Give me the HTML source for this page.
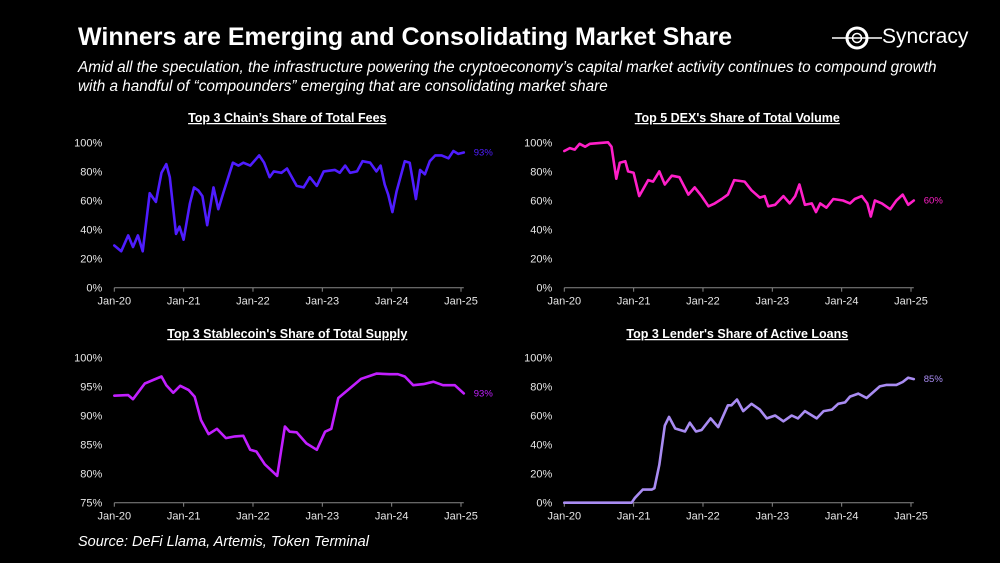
<!DOCTYPE html>
<html><head><meta charset="utf-8"><style>
html,body{margin:0;padding:0;background:#000;}
body{width:1000px;height:563px;overflow:hidden;position:relative;font-family:"Liberation Sans",sans-serif;color:#fff;}
.t{position:absolute;white-space:nowrap;}
</style></head><body>
<div class="t" style="left:78px;top:23px;font-size:25px;font-weight:bold;">Winners are Emerging and Consolidating Market Share</div>
<div class="t" style="left:78px;top:58px;font-size:15.3px;font-style:italic;line-height:19px;">Amid all the speculation, the infrastructure powering the cryptoeconomy’s capital market activity continues to compound growth<br>with a handful of “compounders” emerging that are consolidating market share</div>
<div class="t" style="left:78px;top:534px;font-size:14.5px;font-style:italic;">Source: DeFi Llama, Artemis, Token Terminal</div>
<div style="position:absolute;left:832px;top:23px;width:160px;height:32px;">
<svg width="50" height="30" style="position:absolute;left:0;top:0"><line x1="0" y1="15" x2="50" y2="15" stroke="#fff" stroke-width="1.5"/><circle cx="25" cy="15" r="10" fill="none" stroke="#fff" stroke-width="3"/><circle cx="25" cy="15" r="4.5" fill="none" stroke="#fff" stroke-width="1.5"/></svg>
<span style="position:absolute;left:50px;top:2px;font-size:21px;">Syncracy</span></div>
<svg id="charts" width="1000" height="563" style="position:absolute;left:0;top:0"></svg>
<script>
const yearTicks=["Jan-20","Jan-21","Jan-22","Jan-23","Jan-24","Jan-25"];
const feesX=[0,0.1,0.2,0.27,0.34,0.41,0.51,0.6,0.68,0.75,0.8,0.89,0.94,1.0,1.09,1.15,1.21,1.27,1.34,1.43,1.5,1.57,1.71,1.79,1.86,1.96,2.09,2.16,2.24,2.3,2.41,2.49,2.63,2.73,2.82,2.92,3.02,3.18,3.25,3.33,3.4,3.5,3.58,3.69,3.78,3.84,3.9,3.95,4.01,4.07,4.19,4.26,4.35,4.41,4.48,4.55,4.63,4.72,4.82,4.89,4.96,5.04];
const feesY=[29,25,36,28,36,25,65,59,79,85,76,37,42,33,58,69,67,63,43,69,54,65,86,84,86,84,91,86,76,80,79,82,70,69,76,70,80,81,79,84,79,80,87,86,80,84,71,64,52,66,87,86,61,81,78,87,91,91,89,94,92,93];
const dexX=[0,0.08,0.15,0.22,0.3,0.37,0.63,0.68,0.75,0.8,0.88,0.92,1.0,1.08,1.21,1.28,1.37,1.45,1.55,1.66,1.79,1.88,1.98,2.08,2.17,2.27,2.36,2.45,2.6,2.7,2.82,2.89,2.94,3.04,3.16,3.25,3.33,3.39,3.47,3.57,3.63,3.69,3.78,3.88,4.02,4.12,4.19,4.29,4.37,4.42,4.48,4.58,4.7,4.79,4.88,4.96,5.04];
const dexY=[94,96,95,99,97,99,100,97,75,86,87,80,79,63,74,73,80,71,77,76,64,69,63,56,58,61,64,74,73,67,62,63,56,57,63,58,63,71,57,58,52,58,55,61,60,58,61,63,58,49,60,58,54,60,64,57,60];
const stableX=[0,0.2,0.27,0.44,0.56,0.68,0.75,0.85,0.95,1.07,1.16,1.25,1.36,1.48,1.61,1.74,1.86,1.96,2.05,2.17,2.35,2.46,2.53,2.63,2.77,2.92,3.04,3.13,3.23,3.4,3.56,3.66,3.78,3.97,4.09,4.19,4.31,4.46,4.6,4.74,4.91,5.04];
const stableY=[93.4,93.5,92.8,95.5,96.1,96.7,95.2,93.9,95.1,94.4,93.2,89.2,86.8,87.7,86.1,86.4,86.5,84.1,83.8,81.6,79.6,88.1,87.2,87.1,85.2,84.1,87.2,87.7,93,94.7,96.3,96.7,97.2,97.1,97.1,96.7,95.2,95.4,95.8,95.2,95.2,93.8];
const loansX=[0,0.97,1.02,1.13,1.26,1.3,1.37,1.45,1.51,1.6,1.74,1.81,1.9,1.98,2.11,2.22,2.36,2.41,2.49,2.58,2.7,2.82,2.92,3.04,3.16,3.28,3.37,3.47,3.64,3.74,3.86,3.95,4.05,4.12,4.24,4.36,4.55,4.65,4.79,4.88,4.96,5.04];
const loansY=[0,0,3.4,9,9,10,26,53,59,51,49,55,49,50,58,52,67,67,71,63,68,64,58,60,56,60,58,63,58,63,64,68,69,73,75,72,80,81,81,83,86,85];
const pctTicksA=[0,20,40,60,80,100];
const pctTicksB=[75,80,85,90,95,100];
const endLabels=["93%","60%","93%","85%"];
const NS="http://www.w3.org/2000/svg";
const svg=document.getElementById('charts');
function mk(tag,attrs,parent){const e=document.createElementNS(NS,tag);for(const k in attrs)e.setAttribute(k,attrs[k]);(parent||svg).appendChild(e);return e;}
const charts=[
 {name:'fees',title:"Top 3 Chain’s Share of Total Fees",x0:114.3,top:142.3,bot:287.7,xs:feesX,ys:feesY,ticks:pctTicksA,min:0,max:100,color:'#4f1dff',label:endLabels[0],ty:118},
 {name:'dex',title:"Top 5 DEX's Share of Total Volume",x0:564.3,top:142.3,bot:287.7,xs:dexX,ys:dexY,ticks:pctTicksA,min:0,max:100,color:'#ff1fc8',label:endLabels[1],ty:118},
 {name:'stablecoin',title:"Top 3 Stablecoin's Share of Total Supply",x0:114.3,top:357.3,bot:502.7,xs:stableX,ys:stableY,ticks:pctTicksB,min:75,max:100,color:'#c21fff',label:endLabels[2],ty:334},
 {name:'lender',title:"Top 3 Lender's Share of Active Loans",x0:564.3,top:357.3,bot:502.7,xs:loansX,ys:loansY,ticks:pctTicksA,min:0,max:100,color:'#a98cf2',label:endLabels[3],ty:334}
];
charts.forEach(c=>{
 const g=mk('g',{});
 
 
 const xw=(461-114.3)/5;
 const X=v=>c.x0+v*xw;
 const Y=v=>c.bot-(v-c.min)/(c.max-c.min)*(c.bot-c.top);
 const t=mk('text',{x:c.x0+173,y:c.ty+4,'text-anchor':'middle','font-size':'12.5','font-weight':'bold',fill:'#fff','text-decoration':'underline','font-family':'Liberation Sans, sans-serif'},g);
 t.textContent=c.title;
 
 
 c.ticks.forEach(v=>{
  const l=mk('text',{x:c.x0-12,y:Y(v)+4,'text-anchor':'end','font-size':'11',fill:'#e6e6e6','font-family':'Liberation Sans, sans-serif'},g);
  l.textContent=v+'%';
  
  
 });
 const ax=mk('line',{x1:c.x0,y1:c.bot,x2:X(5.04),y2:c.bot,stroke:'#888','stroke-width':1},g);
 
 
 yearTicks.forEach((lab,i)=>{
  mk('line',{x1:X(i),y1:c.bot,x2:X(i),y2:c.bot+4,stroke:'#888','stroke-width':1},g);
  const l=mk('text',{x:X(i),y:c.bot+17,'text-anchor':'middle','font-size':'11',fill:'#e6e6e6','font-family':'Liberation Sans, sans-serif'},g);
  l.textContent=lab;
  
  
 });
 const pts=c.xs.map((x,i)=>X(x).toFixed(1)+','+Y(c.ys[i]).toFixed(1)).join(' ');
 const pl=mk('polyline',{points:pts,fill:'none',stroke:c.color,'stroke-width':2.6,'stroke-linejoin':'round','stroke-linecap':'round'},g);
 
 
 const n=c.xs.length-1;
 const el=mk('text',{x:X(c.xs[n])+10,y:Y(c.ys[n])+3,'font-size':'9.5',fill:c.color,'font-family':'Liberation Sans, sans-serif'},g);
 el.textContent=c.label;
 
 
});
</script>
</body></html>
